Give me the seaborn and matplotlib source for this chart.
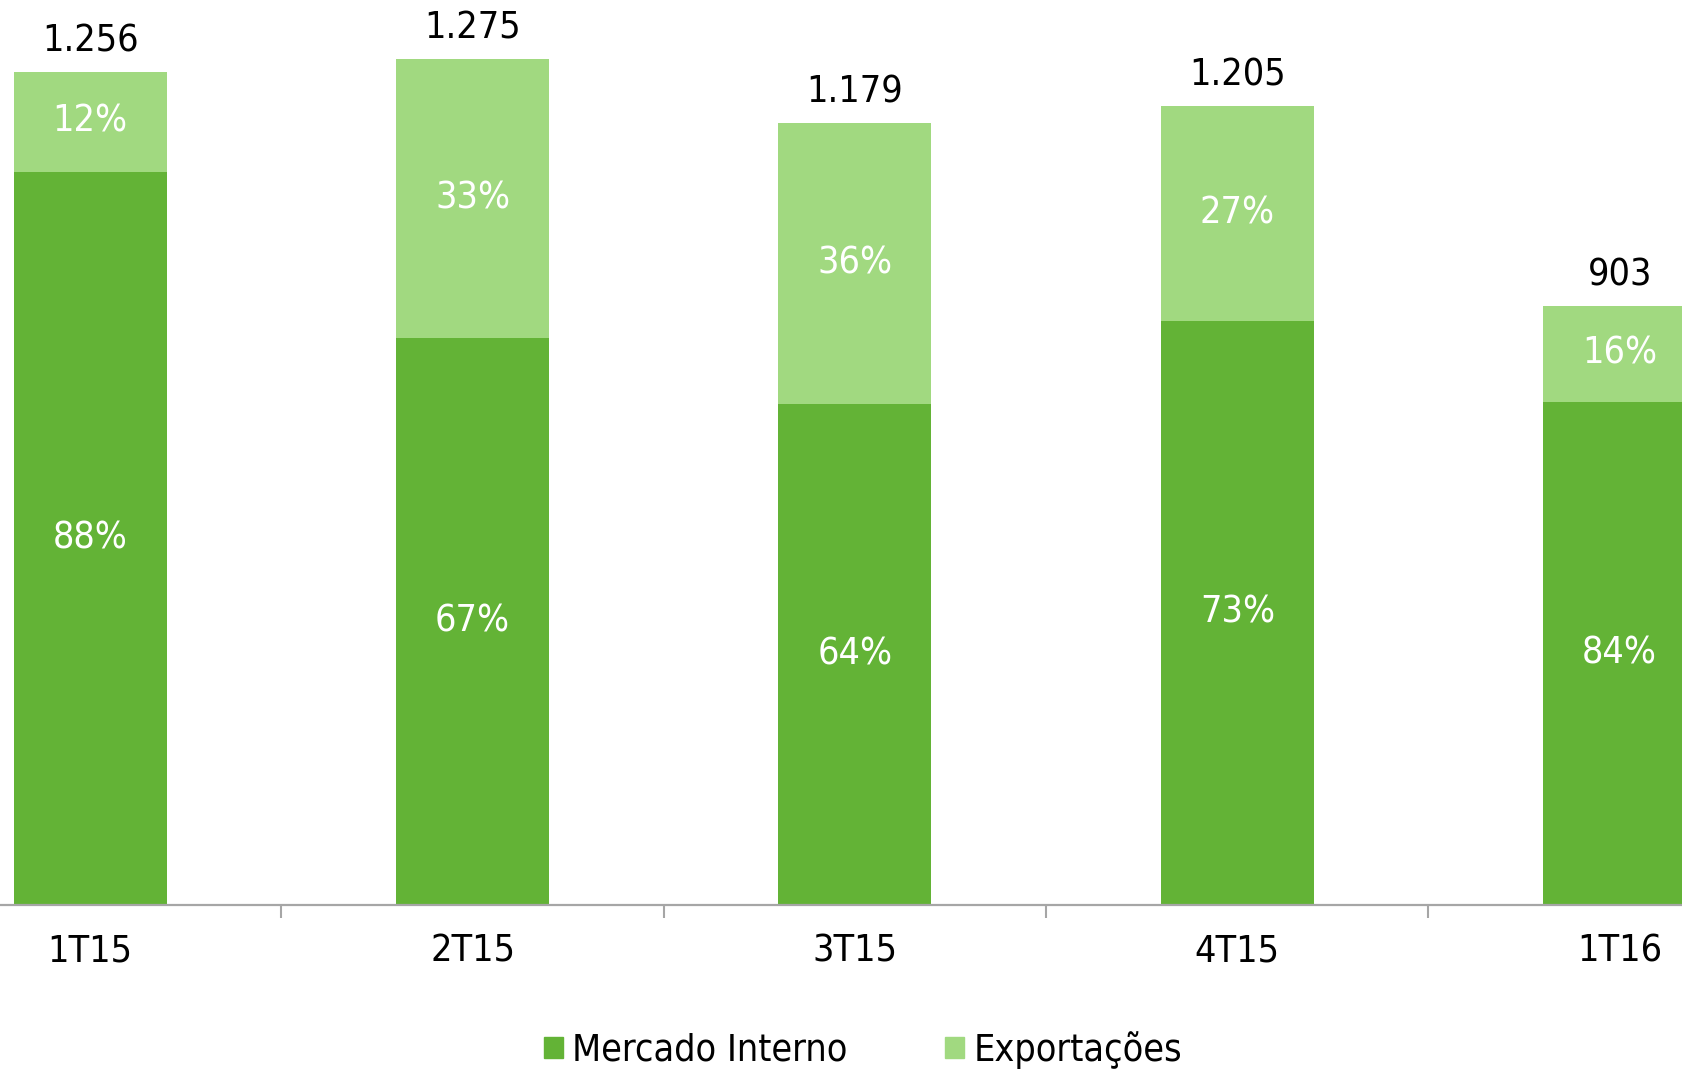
import matplotlib
matplotlib.use("Agg")
import matplotlib.pyplot as plt
from matplotlib.patches import Patch
import pandas as pd
import seaborn as sns

# dados do gráfico
trimestres = ["1T15", "2T15", "3T15", "4T15", "1T16"]
totais = [1256, 1275, 1179, 1205, 903]
pct_mercado = [88, 67, 64, 73, 84]
pct_export = [12, 33, 36, 27, 16]
rotulos_total = ["1.256", "1.275", "1.179", "1.205", "903"]

cor_mercado = "#63B336"
cor_export = "#A1D980"
fs = 27

sns.set_theme(style="white")
plt.rcParams["font.family"] = ["Liberation Sans Narrow", "DejaVu Sans"]
plt.rcParams["font.stretch"] = "condensed"

df = pd.DataFrame({"trimestre": trimestres, "total": totais,
                   "mercado": [t * p / 100 for t, p in zip(totais, pct_mercado)]})

fig = plt.figure(figsize=(16.82, 10.72), dpi=100)
ax = fig.add_axes([0, 167.5 / 1072, 1, 904.5 / 1072])

sns.barplot(data=df, x="trimestre", y="total", color=cor_export, width=0.4,
            saturation=1, linewidth=0, ax=ax)
sns.barplot(data=df, x="trimestre", y="mercado", color=cor_mercado, width=0.4,
            saturation=1, linewidth=0, ax=ax)

ax.set_xlim(-0.236, 4.163)
ax.set_ylim(0, 1364.5)

for i, row in df.iterrows():
    ax.annotate(rotulos_total[i], (i, row["total"]), xytext=(0, 22),
                textcoords="offset points", ha="center", va="center",
                fontsize=fs, color="black")
    ax.text(i, row["mercado"] / 2, f"{pct_mercado[i]}%", ha="center",
            va="center", fontsize=fs, color="white")
    ax.text(i, (row["mercado"] + row["total"]) / 2, f"{pct_export[i]}%",
            ha="center", va="center", fontsize=fs, color="white")

for s in ["top", "right", "left"]:
    ax.spines[s].set_visible(False)
ax.spines["bottom"].set_color("#A6A6A6")
ax.spines["bottom"].set_linewidth(1.6)

ax.set_yticks([])
ax.set_xlabel("")
ax.set_ylabel("")
ax.set_xticks(range(len(trimestres)))
ax.set_xticklabels(trimestres, fontsize=fs, color="black")
ax.tick_params(axis="x", which="major", length=0, pad=21)
ax.set_xticks([0.5, 1.5, 2.5, 3.5], minor=True)
ax.tick_params(axis="x", which="minor", length=9.5, width=1.5,
               color="#A6A6A6", direction="out", bottom=True)

handles = [Patch(color=cor_mercado, label="Mercado Interno"),
           Patch(color=cor_export, label="Exportações")]
fig.legend(handles=handles, loc="center", bbox_to_anchor=(863 / 1682, 1 - 1050 / 1072),
           ncol=2, frameon=False, fontsize=fs, labelcolor="black",
           handlelength=0.51, handleheight=0.51, handletextpad=0.25,
           columnspacing=2.6, borderaxespad=0)

fig.savefig("out.png", dpi=100)
